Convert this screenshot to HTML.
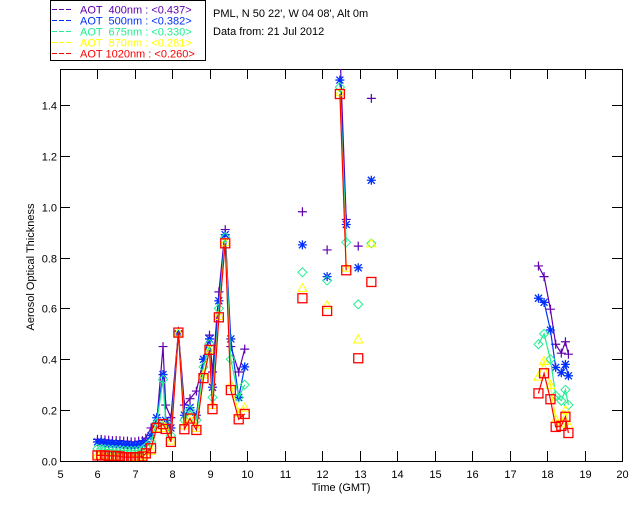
<!DOCTYPE html>
<html><head><meta charset="utf-8"><style>
body{margin:0;background:#fff;}
svg{display:block;font-family:"Liberation Sans",sans-serif;}
</style></head><body>
<svg id="chart" width="640" height="512" viewBox="0 0 640 512">
<defs><clipPath id="clip"><rect x="60" y="69" width="562" height="392"/></clipPath></defs>
<g id="legend">
<rect x="50.5" y="0.5" width="155" height="60" fill="none" stroke="#000"/>
</g>
<text x="213" y="17" font-size="11">PML, N 50 22', W 04 08', Alt 0m</text>
<text x="213" y="35" font-size="11">Data from: 21 Jul 2012</text>
<g id="axes"></g>
<g id="marks" clip-path="url(#clip)"></g>
<text x="341" y="491" font-size="11" text-anchor="middle">Time (GMT)</text>
<text transform="translate(34,267) rotate(-90)" font-size="11" text-anchor="middle">Aerosol Optical Thickness</text>
</svg>
<script>
const xTicks=[5,6,7,8,9,10,11,12,13,14,15,16,17,18,19,20];
const yTicks=[0.0,0.2,0.4,0.6,0.8,1.0,1.2,1.4];
const seriesNames=["AOT  400nm : <0.437>","AOT  500nm : <0.382>","AOT  675nm : <0.330>","AOT  870nm : <0.281>","AOT 1020nm : <0.260>"];
const times=[6.0,6.1,6.2,6.3,6.4,6.5,6.6,6.7,6.8,6.9,7.0,7.1,7.2,7.29,7.43,7.58,7.75,7.82,7.96,8.16,8.32,8.47,8.64,8.83,8.99,9.07,9.24,9.41,9.56,9.77,9.93,
 11.47,12.13,12.47,12.64,12.96,13.31,
 17.77,17.92,18.09,18.23,18.38,18.49,18.57];
const groups=[0,0,0,0,0,0,0,0,0,0,0,0,0,0,0,0,0,0,0,0,0,0,0,0,0,0,0,0,0,0,0,
 1,2,3,3,4,5,
 6,6,6,6,6,6,6];
const aot400=[0.085,0.085,0.083,0.082,0.08,0.08,0.08,0.078,0.078,0.075,0.075,0.078,0.08,0.09,0.13,0.15,0.45,0.22,0.17,0.51,0.22,0.245,0.275,0.40,0.495,0.35,0.665,0.91,0.45,0.35,0.44,
 0.98,0.83,1.62,0.95,0.845,1.426,
 0.767,0.725,0.597,0.459,0.424,0.469,0.42];
const aot500=[0.075,0.075,0.072,0.07,0.07,0.068,0.068,0.065,0.065,0.062,0.062,0.065,0.068,0.075,0.10,0.17,0.34,0.16,0.13,0.50,0.18,0.21,0.18,0.40,0.48,0.29,0.63,0.89,0.48,0.25,0.37,
 0.85,0.725,1.498,0.93,0.76,1.104,
 0.64,0.624,0.515,0.368,0.347,0.38,0.335];
const aot675=[0.048,0.047,0.046,0.045,0.044,0.043,0.042,0.041,0.04,0.04,0.04,0.042,0.045,0.055,0.075,0.15,0.32,0.15,0.10,0.50,0.16,0.20,0.16,0.37,0.46,0.25,0.60,0.88,0.40,0.25,0.30,
 0.742,0.71,1.47,0.86,0.616,0.856,
 0.459,0.50,0.40,0.257,0.237,0.28,0.22];
const aot870=[0.025,0.025,0.022,0.022,0.02,0.02,0.018,0.016,0.015,0.015,0.015,0.016,0.02,0.028,0.04,0.13,0.14,0.13,0.08,0.505,0.14,0.17,0.13,0.34,0.44,0.22,0.57,0.86,0.30,0.19,0.21,
 0.68,0.613,1.45,0.76,0.478,0.856,
 0.332,0.393,0.299,0.164,0.148,0.20,0.142];
const aot1020=[0.022,0.022,0.022,0.02,0.02,0.02,0.018,0.015,0.015,0.015,0.015,0.015,0.018,0.03,0.05,0.13,0.145,0.126,0.075,0.505,0.125,0.167,0.122,0.326,0.437,0.204,0.565,0.856,0.279,0.164,0.185,
 0.64,0.59,1.443,0.75,0.404,0.704,
 0.266,0.345,0.243,0.134,0.138,0.174,0.11];

const NS="http://www.w3.org/2000/svg";
const X0=60,X1=622,Y0=461,Y1=69,XMIN=5,XMAX=20,YMAX=(461-69)/254.3;
function sx(t){return X0+(t-XMIN)/(XMAX-XMIN)*(X1-X0);}
function sy(v){return Y0-v/YMAX*(Y0-Y1);}
function mk(tag,attrs,parent){const e=document.createElementNS(NS,tag);for(const k in attrs)e.setAttribute(k,attrs[k]);parent.appendChild(e);return e;}

const axes=document.getElementById('axes');
const frame=mk('rect',{x:X0+0.5,y:Y1+0.5,width:X1-X0,height:Y0-Y1,fill:'none',stroke:'#000'},axes);


xTicks.forEach(t=>{
  const x=Math.round(sx(t))+0.5;
  const l=mk('line',{x1:x,x2:x,y1:Y0,y2:Y0-10,stroke:'#000'},axes);
  
  
  const lt=mk('line',{x1:x,x2:x,y1:Y1,y2:Y1+10,stroke:'#000'},axes);
  
  
  const tx=mk('text',{x:x,y:478,'font-size':11,'text-anchor':'middle'},axes);
  tx.textContent=String(t);
  
  
});
yTicks.forEach(v=>{
  const y=Math.round(sy(v))+0.5;
  const l=mk('line',{x1:X0,x2:X0+10,y1:y,y2:y,stroke:'#000'},axes);
  
  
  const lr=mk('line',{x1:X1-10,x2:X1,y1:y,y2:y,stroke:'#000'},axes);
  
  
  const tx=mk('text',{x:57,y:y+4,'font-size':11,'text-anchor':'end'},axes);
  tx.textContent=v.toFixed(1);
  
  
});

const series=[aot400,aot500,aot675,aot870,aot1020];
const colors=["#6000b0","#0030ff","#20ee90","#ffff00","#ff0000"];
const markers=["plus","star","diamond","triangle","square"];
const marks=document.getElementById('marks');
function marker(type,x,y,c,g){
  const s=4.5;let e;
  if(type==='plus'){e=mk('path',{d:`M${x-s},${y}H${x+s}M${x},${y-s}V${y+s}`,stroke:c,fill:'none','stroke-width':1.2},g);}
  else if(type==='star'){e=mk('path',{d:`M${x-s},${y}H${x+s}M${x},${y-s}V${y+s}M${x-3.5},${y-3.5}L${x+3.5},${y+3.5}M${x-3.5},${y+3.5}L${x+3.5},${y-3.5}`,stroke:c,fill:'none','stroke-width':1.3},g);}
  else if(type==='diamond'){e=mk('path',{d:`M${x},${y-s}L${x+s},${y}L${x},${y+s}L${x-s},${y}Z`,stroke:c,fill:'none','stroke-width':1},g);}
  else if(type==='triangle'){e=mk('path',{d:`M${x},${y-s}L${x+s},${y+3.5}L${x-s},${y+3.5}Z`,stroke:c,fill:'none','stroke-width':1},g);}
  else {e=mk('rect',{x:x-4.5,y:y-4.5,width:9,height:9,stroke:c,fill:'none','stroke-width':1.3},g);}
  
  
}
series.forEach((vals,si)=>{
  const g=mk('g',{},marks);
  
  
  let d='';
  for(let i=0;i<times.length;i++){
    const cmd=(i>0&&groups[i]===groups[i-1])?'L':'M';
    d+=cmd+sx(times[i]).toFixed(1)+','+sy(vals[i]).toFixed(1);
  }
  const p=mk('path',{d:d,fill:'none',stroke:colors[si],'stroke-width':1.2},g);
  
  
  for(let i=0;i<times.length;i++) marker(markers[si],sx(times[i]),sy(vals[i]),colors[si],g);
});

const legend=document.getElementById('legend');
seriesNames.forEach((n,i)=>{
  const y=9.5+i*11;
  const l=mk('line',{x1:52,x2:73,y1:y,y2:y,stroke:colors[i],'stroke-dasharray':'5,2'},legend);
  
  
  const t=mk('text',{x:80,y:y+4,'font-size':11,fill:colors[i],'xml:space':'preserve'},legend);
  t.style.whiteSpace='pre';
  t.textContent=n;
  
  
});
</script>
</body></html>
